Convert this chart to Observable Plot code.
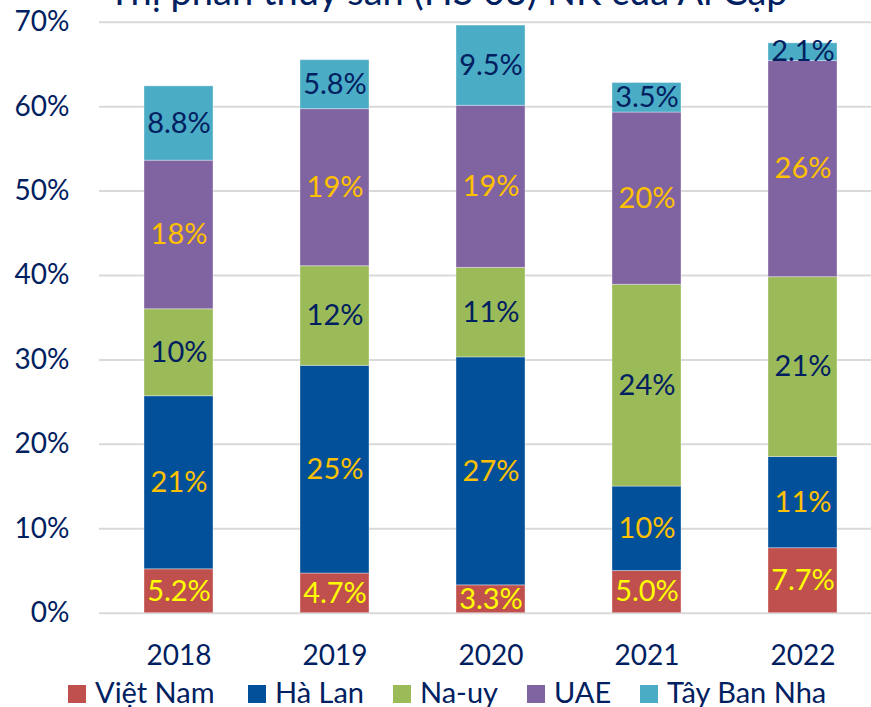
<!DOCTYPE html>
<html>
<head>
<meta charset="utf-8">
<script src="https://cdn.jsdelivr.net/npm/d3@7"></script>
<script src="https://cdn.jsdelivr.net/npm/@observablehq/plot@0.6"></script>
<style>
  html, body { margin: 0; padding: 0; background: #fff; overflow: hidden; }
  #wrap { position: relative; width: 871px; height: 707px; overflow: hidden; }
  #chart { position: absolute; left: 0; top: 0; width: 882px; }
  #chart svg { max-width: none !important; }
  #title { position: absolute; left: 0; width: 896px; text-align: center; top: -28.7px;
           font-family: Lato, "Noto Sans", sans-serif; font-size: 38px; line-height: 38px; color: #002060; white-space: nowrap; }
  #legend { position: absolute; left: 0; top: 0; width: 871px; height: 707px;
            font-family: Lato, "Noto Sans", sans-serif; font-size: 29px; line-height: 29px; color: #002060; white-space: nowrap; }
  #legend .sw { position: absolute; top: 685px; width: 18px; height: 18px; }
  #legend .tx { position: absolute; top: 677.3px; }
</style>
</head>
<body>
<div id="wrap">
  <div id="chart"></div>
  <div id="title"></div>
  <div id="legend"></div>
</div>
<script>
const titleText = "Thị phần thủy sản (HS 03) NK của Ai Cập";
const years = ["2018", "2019", "2020", "2021", "2022"];
const series = ["Việt Nam", "Hà Lan", "Na-uy", "UAE", "Tây Ban Nha"];
const vietNam   = [5.2, 4.7, 3.3, 5.0, 7.7];
const haLan     = [20.5, 24.6, 27.0, 10.0, 10.8];
const naUy      = [10.3, 11.8, 10.6, 23.9, 21.3];
const uae       = [17.6, 18.6, 19.2, 20.4, 25.6];
const tayBanNha = [8.8, 5.8, 9.5, 3.5, 2.1];
const yTicks = [0, 10, 20, 30, 40, 50, 60, 70];

const seriesColors = ["#C0504D", "#02509A", "#9BBB59", "#8064A2", "#4BACC6"];
const labelColors  = ["#FFFF00", "#FFC000", "#002060", "#FFC000", "#002060"];
const legendLeft = [68, 248, 393, 527, 640];

const seriesValues = [vietNam, haLan, naUy, uae, tayBanNha];
const fmt = v => (v < 10 ? v.toFixed(1) : String(Math.round(v))) + "%";
const data = [];
years.forEach((yr, i) => {
  series.forEach((s, j) => {
    const v = seriesValues[j][i];
    data.push({year: yr, series: s, value: v, label: fmt(v), fill: seriesColors[j], labelFill: labelColors[j]});
  });
});

const chart = Plot.plot({
  width: 882,
  height: 672,
  marginLeft: 99,
  marginRight: 0,
  marginTop: 21.7,
  marginBottom: 59.3,
  style: {fontFamily: "Lato, 'Noto Sans', sans-serif", fontSize: "28px", color: "#002060", background: "transparent", overflow: "visible", maxWidth: "none"},
  x: {domain: years, paddingInner: 0.56, paddingOuter: 0.28, label: null, tickSize: 0, tickPadding: 32},
  y: {domain: [0, 70], ticks: yTicks, tickFormat: d => d + "%", label: null, tickSize: 0, tickPadding: 30},
  color: {type: "identity"},
  marks: [
    Plot.gridY(yTicks, {stroke: "#D9D9D9", strokeOpacity: 1, strokeWidth: 2}),
    Plot.barY(data, {x: "year", y: "value", z: "series", fill: "fill", stroke: "#ffffff", strokeOpacity: 0.35, strokeWidth: 1}),
    Plot.text(data, Plot.stackY({x: "year", y: "value", z: "series", text: "label", fill: "labelFill", fontSize: 29})),
    Plot.axisX({fontSize: 28, tickSize: 0, tickPadding: 32, label: null}),
    Plot.axisY({ticks: yTicks, tickFormat: d => d + "%", fontSize: 28, tickSize: 0, tickPadding: 30, label: null})
  ]
});
document.getElementById("chart").appendChild(chart);
document.getElementById("title").textContent = titleText;

const legend = document.getElementById("legend");
series.forEach((s, j) => {
  const sw = document.createElement("div");
  sw.className = "sw";
  sw.style.left = legendLeft[j] + "px";
  sw.style.background = seriesColors[j];
  const t = document.createElement("span");
  t.className = "tx";
  t.style.left = (legendLeft[j] + 27) + "px";
  t.textContent = s;
  legend.appendChild(sw);
  legend.appendChild(t);
});
</script>
</body>
</html>
